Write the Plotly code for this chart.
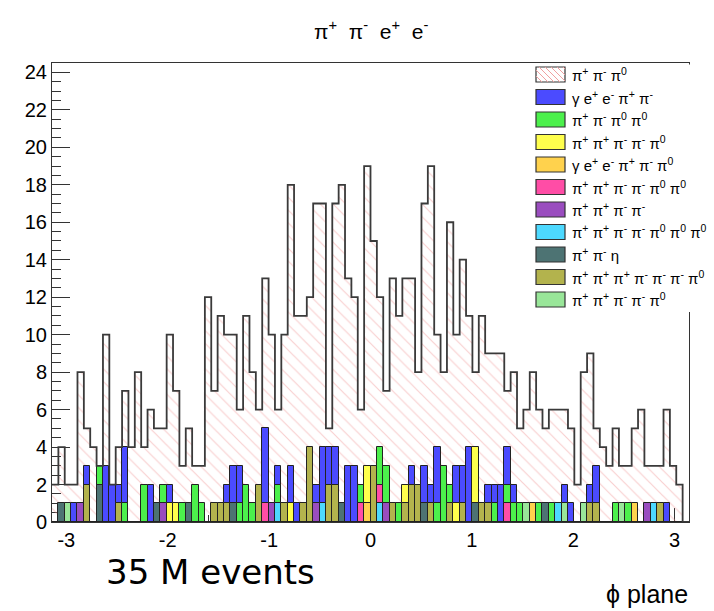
import numpy as np
import plotly.graph_objects as go

# ---------------- data ----------------
N_BINS = 100
PHI_MIN, PHI_MAX = -np.pi, np.pi
x_tickvals = [-3, -2, -1, 0, 1, 2, 3]
x_ticktext = ["-3", "-2", "-1", "0", "1", "2", "3"]

# pi+ pi- pi0 (hatched, main)
main = [2, 4, 2, 2, 8, 5, 4, 3, 10, 2,
        4, 7, 4, 8, 4, 6, 5, 5, 10, 7,
        3, 5, 3, 3, 12, 7, 11, 10, 10, 6,
        11, 8, 6, 13, 10, 6, 10, 18, 11, 11,
        12, 17, 17, 5, 17, 18, 13, 12, 6, 19,
        15, 12, 7, 13, 11, 13, 13, 8, 17, 19,
        10, 8, 16, 10, 14, 11, 8, 11, 9, 9,
        9, 7, 8, 5, 6, 8, 6, 5, 6, 6,
        6, 5, 2, 8, 9, 5, 4, 3, 5, 3,
        3, 5, 6, 3, 3, 3, 6, 3, 2, 0]

# gamma e+ e- pi+ pi-
blue = [0, 0, 0, 1, 0, 3, 0, 0, 3, 2,
        2, 4, 0, 0, 0, 2, 0, 0, 2, 0,
        0, 0, 0, 0, 0, 0, 0, 2, 3, 3,
        0, 0, 0, 5, 0, 3, 0, 3, 1, 0,
        0, 2, 4, 4, 4, 0, 3, 3, 0, 0,
        0, 0, 0, 0, 0, 0, 3, 0, 3, 2,
        4, 0, 0, 3, 3, 4, 0, 0, 2, 2,
        2, 4, 2, 0, 0, 0, 0, 0, 0, 0,
        2, 1, 0, 0, 2, 3, 0, 0, 0, 0,
        0, 0, 0, 0, 0, 0, 1, 0, 0, 0]
# pi+ pi- pi0 pi0
green = [0, 0, 0, 0, 0, 0, 0, 3, 0, 0,
         0, 1, 0, 0, 2, 0, 0, 2, 0, 0,
         1, 0, 2, 1, 0, 0, 0, 0, 0, 1,
         2, 1, 0, 0, 0, 2, 0, 0, 0, 0,
         0, 0, 0, 0, 0, 0, 0, 0, 2, 0,
         0, 4, 3, 0, 1, 0, 0, 0, 0, 0,
         1, 3, 2, 0, 0, 0, 0, 0, 0, 1,
         0, 2, 1, 1, 0, 0, 1, 0, 1, 0,
         0, 0, 0, 0, 0, 0, 0, 0, 1, 0,
         1, 0, 0, 0, 0, 0, 0, 0, 0, 0]
# pi+ pi+ pi- pi- pi0
yellow = [0, 0, 0, 0, 0, 0, 0, 0, 0, 0,
          0, 0, 0, 0, 0, 0, 0, 0, 1, 1,
          0, 0, 0, 0, 0, 0, 0, 0, 0, 0,
          0, 0, 0, 0, 0, 0, 0, 1, 0, 0,
          0, 0, 0, 0, 0, 0, 0, 0, 0, 3,
          0, 0, 0, 0, 0, 2, 0, 0, 0, 0,
          0, 0, 0, 1, 0, 0, 4, 0, 0, 0,
          0, 0, 0, 0, 0, 0, 0, 0, 0, 0,
          0, 0, 0, 0, 0, 0, 0, 0, 0, 0,
          0, 0, 0, 0, 0, 0, 0, 0, 0, 0]
# gamma e+ e- pi+ pi- pi0
orange = [0] * 49 + [1] + [0] * 25 + [1] + [0] * 15 + [1] + [0] * 8
# pi+ pi+ pi- pi- pi0 pi0
pink = [0] * 33 + [1] + [0] * 14 + [1, 0, 0, 2] + [0] * 19 + [1] + [0] * 28
# pi+ pi+ pi- pi-
purple = ([0] * 4 + [1] + [0] * 12 + [1] + [0] * 16 + [1] + [0] * 6 + [1]
          + [0] * 10 + [1] + [0] * 40 + [1] + [0] * 6)
# pi+ pi+ pi- pi- pi0 pi0 pi0
cyan = ([0] * 35 + [1] + [0] * 6 + [1] + [0] * 8 + [1] + [0] * 27 + [1]
        + [0] * 14 + [1] + [0] * 5)
# pi+ pi- eta
slate = [0, 1, 0, 0, 0, 0, 0, 2, 0, 0,
         0, 0, 0, 0, 0, 0, 1, 0, 0, 0,
         0, 1, 0, 0, 0, 0, 0, 0, 1, 0,
         0, 0, 0, 0, 0, 0, 0, 0, 0, 0,
         0, 0, 0, 0, 0, 1, 0, 0, 0, 0,
         0, 0, 0, 0, 0, 0, 0, 0, 1, 0,
         0, 0, 0, 0, 0, 0, 1, 0, 0, 0,
         0, 0, 0, 0, 0, 0, 0, 1, 0, 0,
         0, 0, 0, 0, 0, 0, 0, 0, 0, 0,
         0, 0, 0, 0, 0, 0, 0, 0, 0, 0]
# pi+ pi+ pi+ pi- pi- pi- pi0
olive = [0, 0, 0, 0, 0, 2, 0, 0, 0, 0,
         1, 0, 0, 0, 0, 0, 0, 0, 0, 0,
         0, 0, 0, 0, 0, 1, 1, 1, 0, 0,
         0, 0, 2, 0, 0, 0, 1, 0, 0, 1,
         4, 0, 0, 2, 2, 0, 0, 0, 0, 0,
         3, 0, 0, 1, 0, 1, 2, 2, 0, 1,
         0, 0, 1, 0, 1, 0, 0, 1, 1, 0,
         0, 0, 0, 0, 0, 0, 0, 0, 0, 0,
         0, 0, 0, 0, 1, 1, 0, 0, 0, 0,
         0, 0, 0, 0, 0, 1, 0, 0, 0, 0]
# pi+ pi+ pi- pi- pi0 (second)
lightgreen = ([0] * 2 + [1] + [0] * 71 + [1] + [0] * 5 + [1] + [0] * 2 + [1]
              + [0] * 5 + [1] + [0] * 10)

labels = [
    "π<sup>+</sup> π<sup>-</sup> π<sup>0</sup>",
    "γ e<sup>+</sup> e<sup>-</sup> π<sup>+</sup> π<sup>-</sup>",
    "π<sup>+</sup> π<sup>-</sup> π<sup>0</sup> π<sup>0</sup>",
    "π<sup>+</sup> π<sup>+</sup> π<sup>-</sup> π<sup>-</sup> π<sup>0</sup>",
    "γ e<sup>+</sup> e<sup>-</sup> π<sup>+</sup> π<sup>-</sup> π<sup>0</sup>",
    "π<sup>+</sup> π<sup>+</sup> π<sup>-</sup> π<sup>-</sup> π<sup>0</sup> π<sup>0</sup>",
    "π<sup>+</sup> π<sup>+</sup> π<sup>-</sup> π<sup>-</sup>",
    "π<sup>+</sup> π<sup>+</sup> π<sup>-</sup> π<sup>-</sup> π<sup>0</sup> π<sup>0</sup> π<sup>0</sup>",
    "π<sup>+</sup> π<sup>-</sup> η",
    "π<sup>+</sup> π<sup>+</sup> π<sup>+</sup> π<sup>-</sup> π<sup>-</sup> π<sup>-</sup> π<sup>0</sup>",
    "π<sup>+</sup> π<sup>+</sup> π<sup>-</sup> π<sup>-</sup> π<sup>0</sup>",
]
colored = [blue, green, yellow, orange, pink, purple, cyan, slate, olive, lightgreen]
colors = ["#4b4bff", "#4cf04c", "#ffff4d", "#ffd24d", "#ff4da6",
          "#9a4dbf", "#4dd9ff", "#4d7373", "#b3b34d", "#99e699"]

# ---------------- figure ----------------
W, H = 714, 611
L, R, T, B = 52, 689, 63, 522
FONT = "Liberation Sans, Arial, sans-serif"

def px(x):
    return (x - L) / (R - L)

def py(y):
    return (B - y) / (B - T)

width = (PHI_MAX - PHI_MIN) / N_BINS
edges = PHI_MIN + width * np.arange(N_BINS + 1)
centers = edges[:-1] + width / 2

fig = go.Figure()
fig.add_trace(go.Bar(
    x=centers, y=main, width=width, showlegend=False,
    marker=dict(color="rgba(255,255,255,0)", line=dict(width=0),
                pattern=dict(shape="\\", fgcolor="#f2a0a0", bgcolor="rgba(255,255,255,0)",
                             size=9, solidity=0.13)),
    hoverinfo="skip"))
for vals, col, lab in zip(colored, colors, labels[1:]):
    fig.add_trace(go.Bar(x=centers, y=vals, width=width, showlegend=False, name=lab,
                         marker=dict(color=col, line=dict(color="#222222", width=1))))
fig.add_trace(go.Scatter(x=list(edges), y=list(main) + [main[-1]], mode="lines",
                         line=dict(shape="hv", color="#3a3a3a", width=1.8),
                         showlegend=False, hoverinfo="skip"))

shapes = []
annotations = []
# legend box
shapes.append(dict(type="rect", xref="paper", yref="paper", layer="above",
                   x0=px(527), x1=px(716), y0=py(312), y1=py(64.5),
                   fillcolor="white", line=dict(width=0)))
sx0, sx1 = 536, 565
for i, lab in enumerate(labels):
    yc = 74.5 + 22.5 * i
    y0, y1 = yc - 7.5, yc + 7.5
    fill = "white" if i == 0 else colors[i - 1]
    shapes.append(dict(type="rect", xref="paper", yref="paper", layer="above",
                       x0=px(sx0), x1=px(sx1), y0=py(y1), y1=py(y0),
                       fillcolor=fill, line=dict(color="#333333", width=1.2)))
    if i == 0:
        hgt = y1 - y0
        for s in np.arange(sx0 - hgt, sx1, 6):
            xa, ya = s, y0
            xb, yb = s + hgt, y1
            if xa < sx0:
                ya = y0 + (sx0 - xa); xa = sx0
            if xb > sx1:
                yb = y1 - (xb - sx1); xb = sx1
            if xb - xa > 0.5:
                shapes.append(dict(type="line", xref="paper", yref="paper", layer="above",
                                   x0=px(xa), y0=py(ya), x1=px(xb), y1=py(yb),
                                   line=dict(color="#f0a0a0", width=1)))
    annotations.append(dict(text=lab, xref="paper", yref="paper", x=px(570), y=py(yc),
                            xanchor="left", yanchor="middle", showarrow=False,
                            font=dict(family=FONT, size=15, color="black")))

NB = "\u00a0"
title_text = (f"π<sup>+</sup>{NB}{NB}π<sup>-</sup>{NB}{NB}e<sup>+</sup>{NB}{NB}e<sup>-</sup>")
annotations.append(dict(text=title_text,
                        xref="paper", yref="paper", x=px(371), y=py(30),
                        xanchor="center", yanchor="middle", showarrow=False,
                        font=dict(family=FONT, size=21, color="black")))
annotations.append(dict(text="35 M events", xref="paper", yref="paper", x=px(104), y=py(572),
                        xanchor="left", yanchor="middle", showarrow=False,
                        font=dict(family="DejaVu Sans, sans-serif", size=34, color="black")))
annotations.append(dict(text="ϕ plane", xref="paper", yref="paper", x=px(690), y=py(594),
                        xanchor="right", yanchor="middle", showarrow=False,
                        font=dict(family=FONT, size=25, color="black")))

fig.update_layout(
    width=W, height=H,
    margin=dict(l=L, r=W - R, t=T, b=H - B, pad=0),
    paper_bgcolor="white", plot_bgcolor="white",
    barmode="overlay", bargap=0, showlegend=False,
    shapes=shapes, annotations=annotations,
    xaxis=dict(range=[PHI_MIN, PHI_MAX], tickvals=x_tickvals, ticktext=x_ticktext,
               ticks="inside", ticklen=14, tickwidth=1, tickcolor="#333333",
               minor=dict(dtick=0.2, tick0=0, ticks="inside", ticklen=7, tickcolor="#333333"),
               showline=True, linecolor="#333333", linewidth=1, mirror=True,
               showgrid=False, zeroline=False, layer="below traces",
               tickfont=dict(family=FONT, size=20, color="black")),
    yaxis=dict(range=[0, 24.5], tick0=0, dtick=2,
               ticks="inside", ticklen=18, tickwidth=1, tickcolor="#333333",
               minor=dict(dtick=0.5, ticks="inside", ticklen=9, tickcolor="#333333"),
               showline=True, linecolor="#333333", linewidth=1, mirror=True,
               showgrid=False, zeroline=False, layer="below traces",
               tickfont=dict(family=FONT, size=20, color="black")),
)
fig.write_html("out.html")
